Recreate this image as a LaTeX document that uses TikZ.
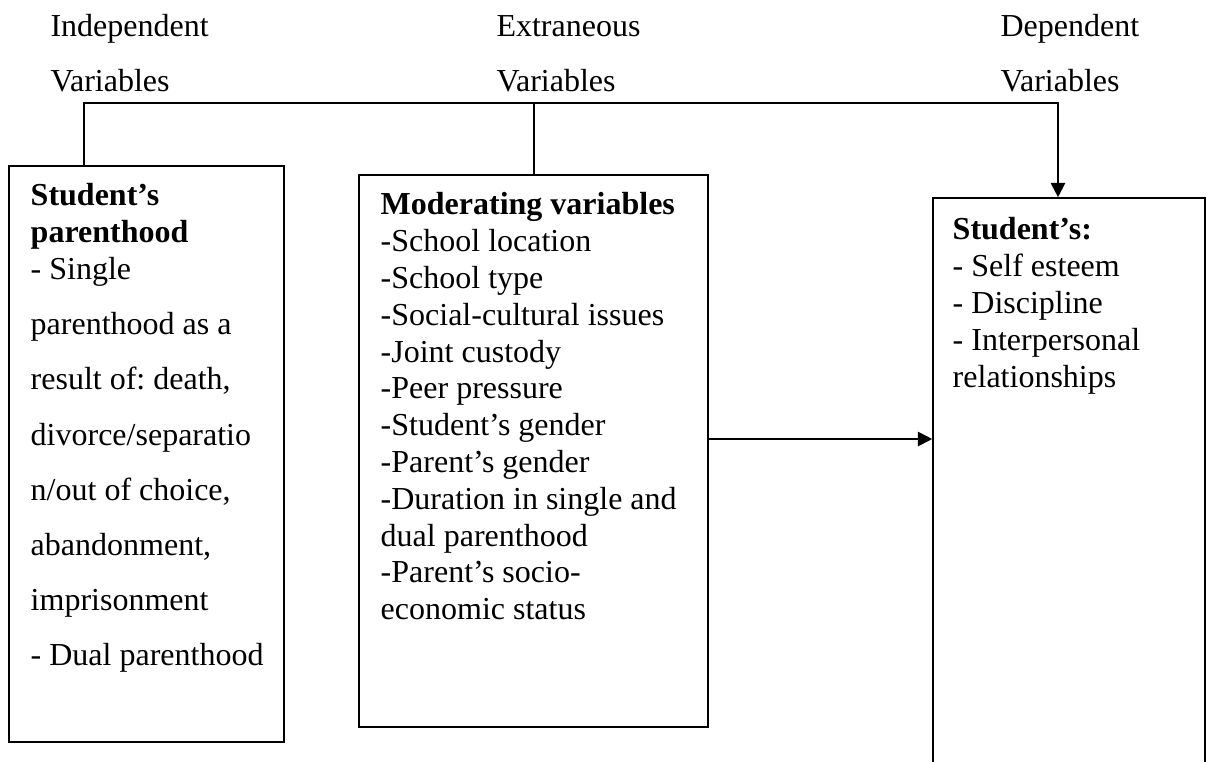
\documentclass[tikz,border=0pt]{standalone}
\usepackage{fontspec}
\setmainfont{Liberation Serif}
\frenchspacing
\usetikzlibrary{arrows.meta, fit}
\tikzstyle{box} = [rectangle, draw=black, line width=0.6pt, inner sep=0pt]
\tikzstyle{boxtext} = [inner sep=0pt, anchor=north west, align=left, font=\fontsize{12}{13.8}\selectfont]
\tikzstyle{heading} = [boxtext]
\tikzstyle{link} = [line width=0.75pt]
\tikzstyle{arrow} = [link, -{Triangle[length=5.4pt, width=5.4pt]}]

\begin{document}
\begin{tikzpicture}[x=0.375pt, y=-0.375pt]
		\useasboundingbox (0,0) rectangle (1206,761);
		\clip (0,0) rectangle (1206,761);
		% headings
		\node (indhead) [heading] at (50,14) {Independent\\[6.9pt]Variables};
		\node (exthead) [heading] at (496,15) {Extraneous\\[6.9pt]Variables};
		\node (dephead) [heading] at (1000,14) {Dependent\\[6.9pt]Variables};
		% boxes
		\node (ind) [box, fit={(9,166) (284,742)}] {};
		\node (ext) [box, fit={(359,175) (708,727)}] {};
		\node (dep) [box, fit={(933,198) (1205,820)}] {};
		% box contents
		\node (indtext) [boxtext] at ([shift={(22,18)}]ind.north west) {\textbf{Student's}\\\textbf{parenthood}\\- Single\\[6.9pt]parenthood as a\\[6.9pt]result of: death,\\[6.9pt]divorce/separatio\\[6.9pt]n/out of choice,\\[6.9pt]abandonment,\\[6.9pt]imprisonment\\[6.9pt]- Dual parenthood};
		\node (exttext) [boxtext] at ([shift={(22,18)}]ext.north west) {\textbf{Moderating variables}\\-School location\\-School type\\-Social-cultural issues\\-Joint custody\\-Peer pressure\\-Student's gender\\-Parent's gender\\-Duration in single and\\dual parenthood\\-Parent's socio-\\economic status};
		\node (deptext) [boxtext] at ([shift={(20,20)}]dep.north west) {\textbf{Student's:}\\- Self esteem\\- Discipline\\- Interpersonal\\relationships};
		% connectors
		\coordinate (busl) at (84,103);
		\coordinate (busr) at (1058,103);
		\coordinate (row) at (0,439);
		\draw [arrow] (ind.north -| busl) |- (busr) -- (busr |- dep.north);
		\draw [link] (ext.north) -- (ext.north |- busl);
		\draw [arrow] (ext.east |- row) -- (dep.west |- row);
	\end{tikzpicture}
\end{document}
